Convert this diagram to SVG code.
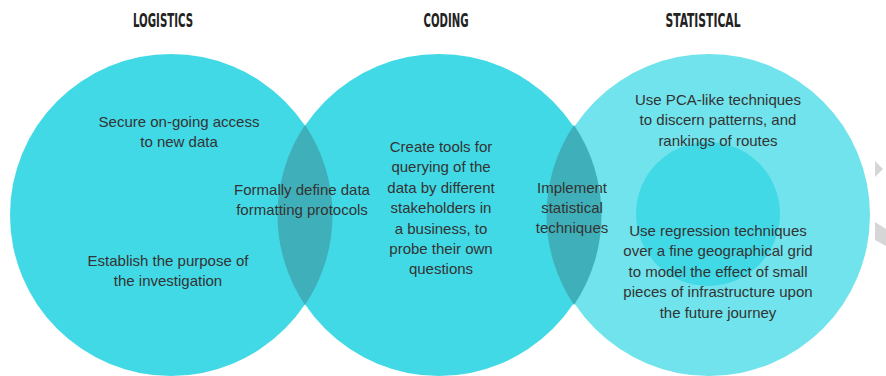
<svg xmlns="http://www.w3.org/2000/svg" width="886" height="376" viewBox="0 0 886 376">
  <style>
    .head { font-family: "Liberation Sans Narrow", "DejaVu Sans Condensed", sans-serif; font-weight: bold; font-size: 19px; fill: #222; text-anchor: middle; }
    .body { font-family: "Liberation Sans", Arial, sans-serif; font-size: 15px; fill: #333; text-anchor: middle; }
    .main { fill: #42d9e6; }
    .light { fill: #70e3ec; }
    .lens { fill: #3fb0b9; }
    .mark { fill: #d6d6d6; }
  </style>
  <rect width="886" height="376" fill="#ffffff"/>

  <!-- column headings -->
  <g id="headings">
    <text class="head" x="163" y="27" textLength="60" lengthAdjust="spacingAndGlyphs">LOGISTICS</text>
    <text class="head" x="446" y="27" textLength="45" lengthAdjust="spacingAndGlyphs">CODING</text>
    <text class="head" x="703" y="27" textLength="75" lengthAdjust="spacingAndGlyphs">STATISTICAL</text>
  </g>

  <!-- three overlapping sets -->
  <g id="logistics">
    <circle class="main" cx="171" cy="215" r="161"/>
  </g>
  <g id="coding">
    <circle class="main" cx="439" cy="215" r="161"/>
  </g>
  <g id="statistical">
    <circle class="light" cx="709" cy="215" r="161"/>
    <circle class="main" cx="708" cy="214" r="72"/>
  </g>

  <!-- overlaps -->
  <g id="overlap-logistics-coding">
    <path class="lens" d="M305,125 A161,161 0 0 1 305,305 A161,161 0 0 1 305,125 Z"/>
  </g>
  <g id="overlap-coding-statistical">
    <path class="lens" d="M574,125 A161,161 0 0 1 574,305 A161,161 0 0 1 574,125 Z"/>
  </g>

  <!-- edge marks -->
  <g id="edge-marks">
    <polygon class="mark" points="875,161 883,169 875,177"/>
    <polygon class="mark" points="875,222 886,229 886,246 875,240"/>
  </g>

  <!-- labels -->
  <g id="labels">
    <text class="body" x="179" y="127">Secure on-going access</text>
    <text class="body" x="179" y="147">to new data</text>

    <text class="body" x="168" y="266">Establish the purpose of</text>
    <text class="body" x="168" y="286">the investigation</text>

    <text class="body" x="302" y="195">Formally define data</text>
    <text class="body" x="302" y="215">formatting protocols</text>

    <text class="body" x="441" y="152">Create tools for</text>
    <text class="body" x="441" y="172">querying of the</text>
    <text class="body" x="441" y="193">data by different</text>
    <text class="body" x="441" y="213">stakeholders in</text>
    <text class="body" x="441" y="234">a business, to</text>
    <text class="body" x="441" y="254">probe their own</text>
    <text class="body" x="441" y="274">questions</text>

    <text class="body" x="572" y="193">Implement</text>
    <text class="body" x="572" y="213">statistical</text>
    <text class="body" x="572" y="233">techniques</text>

    <text class="body" x="718" y="105">Use PCA-like techniques</text>
    <text class="body" x="718" y="125">to discern patterns, and</text>
    <text class="body" x="718" y="146">rankings of routes</text>

    <text class="body" x="718" y="236">Use regression techniques</text>
    <text class="body" x="718" y="256">over a fine geographical grid</text>
    <text class="body" x="718" y="277">to model the effect of small</text>
    <text class="body" x="718" y="297">pieces of infrastructure upon</text>
    <text class="body" x="718" y="318">the future journey</text>
  </g>
</svg>
